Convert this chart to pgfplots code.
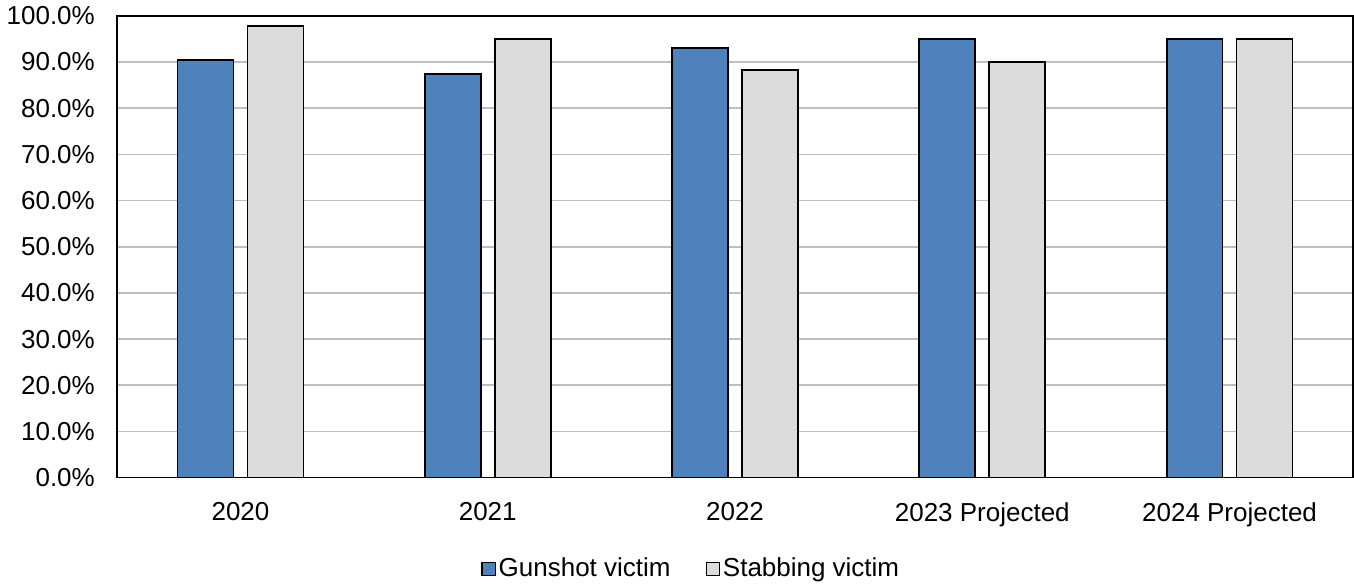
\documentclass[border=0pt]{standalone}
\usepackage{fontspec}
\setmainfont{Liberation Sans}
\usepackage{pgfplots}
\pgfplotsset{compat=1.18}
\definecolor{gunblue}{HTML}{4F81BD}
\definecolor{stabgray}{HTML}{DCDCDC}
\definecolor{gridgray}{HTML}{BFBFBF}
\begin{document}
\begin{tikzpicture}
\begin{axis}[
  scale only axis,
  width=618.5pt, height=231pt,
  xmin=-0.5, xmax=4.5,
  ymin=0, ymax=100,
  ytick={0,10,...,100},
  xtick={0,1,2,3,4},
  xticklabels={2020,2021,2022,2023 Projected,2024 Projected},
  major tick length=0pt,
  ymajorgrids,
  grid style={gridgray, line width=0.8pt},
  axis line style={black, line width=0.8pt},
  font=\fontsize{13pt}{15pt}\selectfont,
  /pgf/number format/assume math mode=true,
  yticklabel={\pgfmathprintnumber[fixed,fixed zerofill,precision=1]{\tick}\%},
  yticklabel style={xshift=-7.5pt},
  xticklabel style={yshift=-9pt},
  ybar, bar width=28pt,
  legend style={at={(0.465,-0.198)}, anchor=center, draw=none, legend columns=2,
    nodes={inner xsep=1.5pt},
    /tikz/every even column/.append style={column sep=16pt},
    font=\fontsize{13pt}{15pt}\selectfont},
  legend image code/.code={\draw[#1, draw=black, line width=0.6pt] (0pt,-3.3pt) rectangle (6.6pt,3.3pt);},
]
\addplot[fill=gunblue, draw=black, line width=0.9pt, bar shift=-17.5pt] coordinates {(0,90.4) (1,87.4) (2,93.0) (3,95.0) (4,95.0)};
\addplot[fill=stabgray, draw=black, line width=0.9pt, bar shift=17.5pt] coordinates {(0,97.8) (1,95.0) (2,88.3) (3,90.0) (4,95.0)};
\legend{Gunshot victim, Stabbing victim}
\end{axis}
\end{tikzpicture}
\end{document}
